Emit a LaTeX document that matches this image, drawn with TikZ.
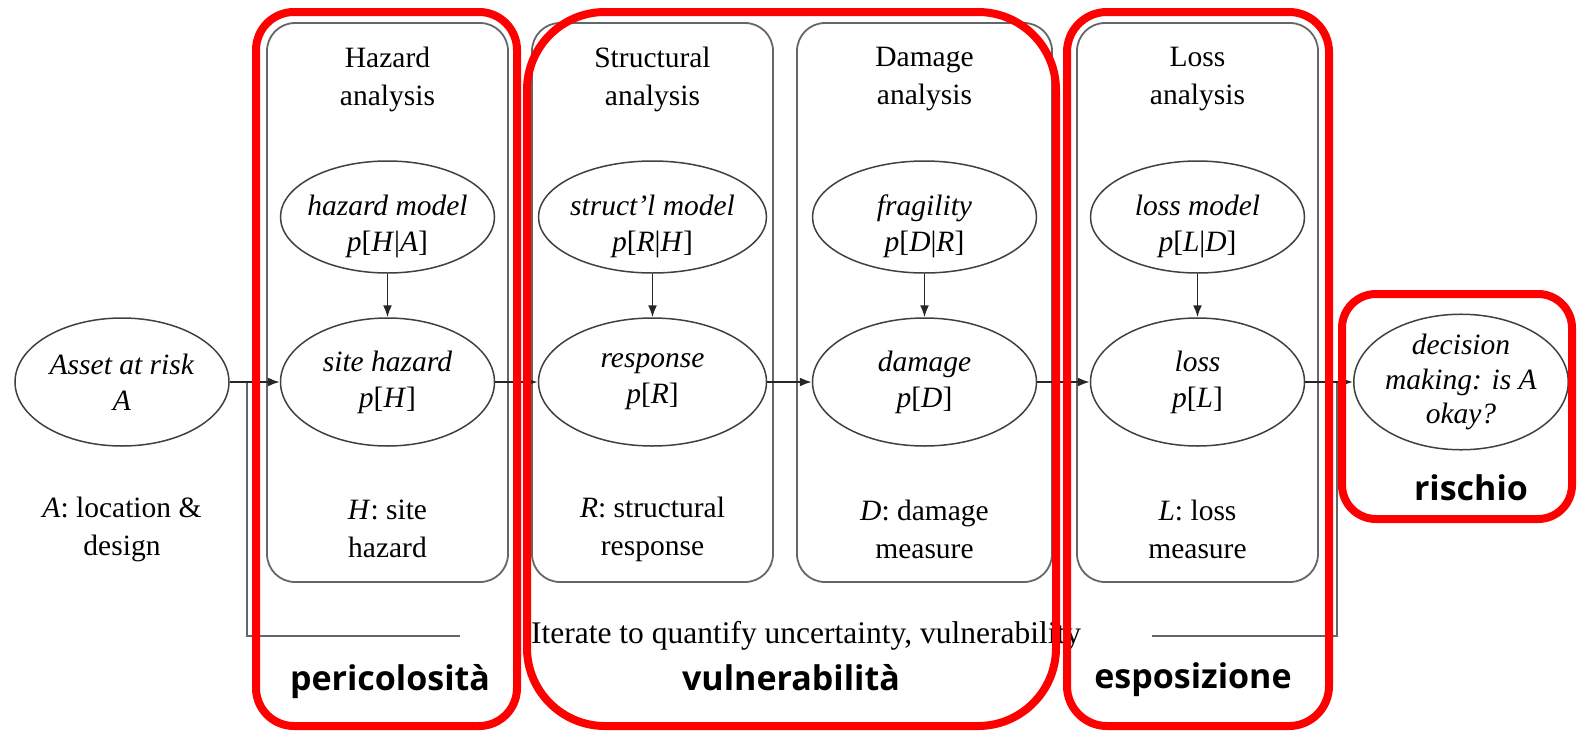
\documentclass[tikz,border=0pt]{standalone}
\usepackage{fontspec}
\setmainfont{Liberation Serif}
\newfontfamily\tagfont{Open Sans}
\usepackage{tikz}
\usetikzlibrary{shapes.geometric, arrows.meta}
\tikzstyle{panel} = [draw=black!60, line width=1.8pt, rounded corners=28pt, minimum width=241pt, minimum height=559pt, inner sep=0pt]
\tikzstyle{bubble} = [draw=black!75, line width=1.5pt, ellipse, inner sep=0pt, minimum width=214pt, align=center, font=\fontsize{29.5}{36}\selectfont]
\tikzstyle{modbubble} = [bubble, minimum height=112pt]
\tikzstyle{txt} = [align=center, font=\fontsize{29.5}{38}\selectfont]
\tikzstyle{modtxt} = [align=center, font=\fontsize{29.5}{36}\selectfont, yshift=-9pt]
\tikzstyle{flow} = [line width=1.7pt, draw=black!85, -{Latex[length=12pt,width=9pt]}]
\tikzstyle{iterline} = [line width=1.8pt, draw=black!60]
\tikzstyle{itertext} = [font=\fontsize{31.5}{38}\selectfont, minimum width=692pt, inner xsep=0pt]
\tikzstyle{redframe} = [draw=red, line width=8pt]
\tikzstyle{tag} = [font=\tagfont\bfseries\fontsize{34}{40}\selectfont, anchor=base]
\newcommand{\cond}[2]{\textit{p}[\textit{#1}|\textit{#2}]}
\newcommand{\marg}[1]{\textit{p}[\textit{#1}]}

\begin{document}
\begin{tikzpicture}[x=1pt, y=-1pt]
\useasboundingbox (0,0) rectangle (1577,734);

% grey panels
\node[panel] (hazpanel) at (387.5,302.5) {};
\node[panel] (strpanel) at (652.5,302.5) {};
\node[panel, minimum width=255pt] (dmgpanel) at (924.5,302.5) {};
\node[panel] (losspanel) at (1197.5,302.5) {};

\node[txt] (hazttl) at (387.5,79) {Hazard\\analysis};
\node[txt] (strttl) at (652.5,79) {Structural\\analysis};
\node[txt] (dmgttl) at (924.5,79) {Damage\\analysis};
\node[txt] (lossttl) at (1197.5,79) {Loss\\analysis};

% models
\node[modbubble] (hazmod) at (387.5,217) {};
\node[modbubble, minimum width=228pt] (strmod) at (652.5,217) {};
\node[modbubble, minimum width=224pt] (fragil) at (924.5,217) {};
\node[modbubble] (lossmod) at (1197.5,217) {};
\node[modtxt] (hazmodtxt) at (hazmod) {\textit{hazard model}\\\cond{H}{A}};
\node[modtxt] (strmodtxt) at (strmod) {\textit{struct'l model}\\\cond{R}{H}};
\node[modtxt] (fragiltxt) at (fragil) {\textit{fragility}\\\cond{D}{R}};
\node[modtxt] (lossmodtxt) at (lossmod) {\textit{loss model}\\\cond{L}{D}};

% results
\node[bubble, minimum height=128pt] (asset) at (122,382) {\textit{Asset at risk}\\\textit{A}};
\node[bubble, minimum height=128pt] (sitehaz) at (387.5,382) {\textit{site hazard}\\\marg{H}};
\node[bubble, minimum height=128pt, minimum width=228pt] (resp) at (652.5,382) {\textit{response}\\\marg{R}};
\node[bubble, minimum height=128pt, minimum width=224pt] (dmg) at (924.5,382) {\textit{damage}\\\marg{D}};
\node[bubble, minimum height=128pt] (loss) at (1197.5,382) {\textit{loss}\\\marg{L}};
\node[bubble, minimum height=132pt, minimum width=212pt, font=\fontsize{29.5}{34.5}\selectfont] (decision) at (1461,382) {\textit{decision}\\\textit{making: is A}\\\textit{okay?}};

% variables
\node[txt] (avar) at (122,529) {\textit{A}: location \&\\design};
\node[txt] (hvar) at (387.5,529) {\textit{H}: site\\hazard};
\node[txt] (rvar) at (652.5,529) {\textit{R}: structural\\response};
\node[txt] (dvar) at (924.5,529) {\textit{D}: damage\\measure};
\node[txt] (lvar) at (1197.5,529) {\textit{L}: loss\\measure};

% iteration loop
\coordinate (tapin) at (247,382);
\coordinate (tapout) at (1337,382);
\node[itertext] (iter) at (806,636) {Iterate to quantify uncertainty, vulnerability};
\draw[iterline] (tapin) |- (iter.west);
\draw[iterline] (iter.east) -| (tapout);

\draw[flow] (hazmod) -- (sitehaz);
\draw[flow] (strmod) -- (resp);
\draw[flow] (fragil) -- (dmg);
\draw[flow] (lossmod) -- (loss);
\draw[flow] (asset) -- (sitehaz);
\draw[flow] (sitehaz) -- (resp);
\draw[flow] (resp) -- (dmg);
\draw[flow] (dmg) -- (loss);
\draw[flow] (loss) -- (decision);

% red frames
\draw[redframe, rounded corners=38pt] (256,12) rectangle (517,726);
\draw[redframe, rounded corners=78pt] (527,12) rectangle (1056,726);
\draw[redframe, rounded corners=40pt] (1067,12) rectangle (1329,726);
\draw[redframe, rounded corners=34pt] (1342,294) rectangle (1572,519);

\node[tag] (perlbl) at (390,690) {pericolosità};
\node[tag] (vullbl) at (791,690) {vulnerabilità};
\node[tag] (esplbl) at (1193,688) {esposizione};
\node[tag] (rislbl) at (1471,500) {rischio};
\end{tikzpicture}
\end{document}
